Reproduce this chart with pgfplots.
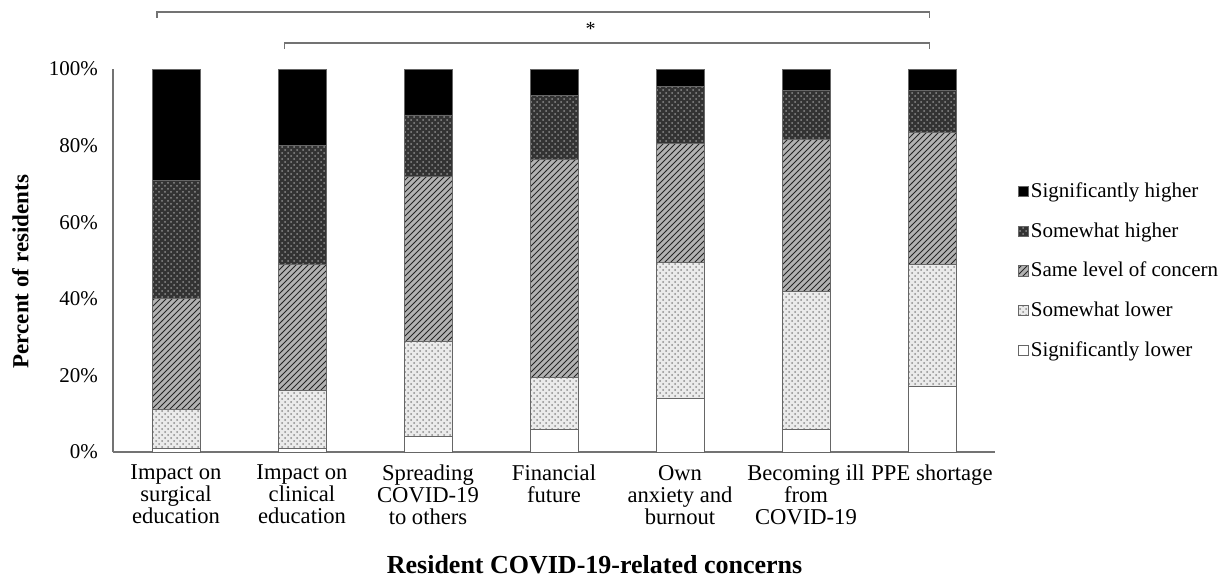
\documentclass[border=0pt]{standalone}
\usepackage{pgfplots}
\usepackage{pgfplotstable}
\pgfplotsset{compat=1.18}
\usetikzlibrary{patterns}
\usepackage{fontspec}
\setmainfont{Liberation Serif}

\pgfplotstableread{
x SL SWL SAME SWH SH
0 1 10 29 31 29
1 1 15 33 31 20
2 4 25 43 16 12
3 6 13.5 57 16.5 7
4 14 35.5 31 15 4.5
5 6 36 39.5 13 5.5
6 17 32 34.5 11 5.5
}\data

\pgfplotsset{sqleg/.style={legend image code/.code={\draw[##1,draw=black!60,line width=0.4pt] (0pt,-2.6pt) rectangle (5.2pt,2.6pt);}}}

\begin{document}
\begin{tikzpicture}
\begin{axis}[
  scale only axis, width=441pt, height=191.5pt,
  xmin=-0.5, xmax=6.5, ymin=0, ymax=100,
  ybar stacked, bar width=0.38,
  clip=false,
  axis lines*=left,
  axis line style={black!55, line width=0.6pt},
  major tick length=0pt,
  xtick={0,...,6},
  xticklabels={{Impact on\\surgical\\education},{Impact on\\clinical\\education},{Spreading\\COVID-19\\to others},{Financial\\future},{Own\\anxiety and\\burnout},{Becoming ill\\from\\COVID-19},{PPE shortage}},
  xticklabel style={align=center, font=\fontsize{11.3}{11}\selectfont, yshift=-3pt},
  ytick={0,20,...,100},
  yticklabel={\pgfmathprintnumber{\tick}\%},
  yticklabel style={font=\fontsize{10.5}{12}\selectfont, xshift=-4pt},
  /pgf/number format/assume math mode=true,
  ylabel={\textbf{Percent of residents}},
  ylabel style={at={(axis description cs:-0.105,0.471)}, anchor=center, font=\fontsize{11.5}{13}\selectfont},
  xlabel={\textbf{Resident COVID-19-related concerns}},
  xlabel style={at={(axis description cs:0.546,-0.295)}, anchor=center, font=\fontsize{13}{15}\selectfont},
  legend style={at={(1.0185,0.725)}, anchor=north west, draw=none, fill=none,
    font=\fontsize{10.5}{12}\selectfont, row sep=7pt, cells={anchor=west},
    nodes={inner xsep=1pt}},
  reverse legend,
]
\addplot+[sqleg, draw=black!60, fill=white] table[x=x,y=SL]{\data};
\addplot+[sqleg, draw=black!60, fill=black!8, postaction={pattern=crosshatch dots, pattern color=black!45}] table[x=x,y=SWL]{\data};
\addplot+[sqleg, draw=black!60, fill=black!30, postaction={pattern=north east lines, pattern color=black!85}] table[x=x,y=SAME]{\data};
\addplot+[sqleg, draw=black!60, fill=black!80, postaction={pattern=crosshatch dots, pattern color=black!45}] table[x=x,y=SWH]{\data};
\addplot+[sqleg, draw=black!60, fill=black] table[x=x,y=SH]{\data};
\legend{Significantly lower, Somewhat lower, Same level of concern, Somewhat higher, Significantly higher}
\coordinate (O) at (rel axis cs:0,0);
\draw[black!55, line width=0.8pt] (axis cs:-0.15,113.4) -- (axis cs:-0.15,114.9) -- (axis cs:5.98,114.9) -- (axis cs:5.98,113.4);
\draw[black!55, line width=0.8pt] (axis cs:0.86,105.3) -- (axis cs:0.86,106.8) -- (axis cs:5.98,106.8) -- (axis cs:5.98,105.3);
\node[font=\fontsize{10}{12}\selectfont] at (axis cs:3.29,110.5) {*};
\end{axis}
\pgfresetboundingbox
\path (O) ++(-56.5pt,-63.5pt) rectangle ++(616pt,289.5pt);
\end{tikzpicture}
\end{document}
